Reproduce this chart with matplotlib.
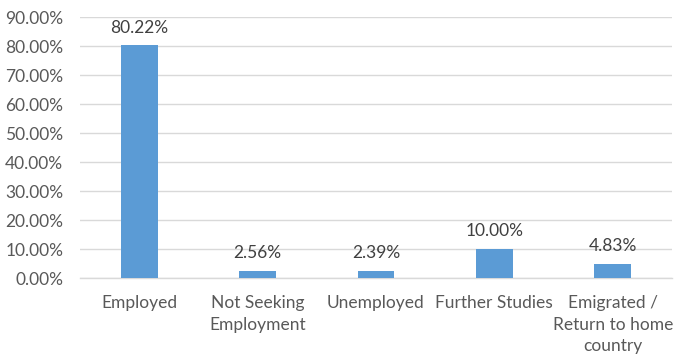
import matplotlib
matplotlib.use("Agg")
import matplotlib.pyplot as plt
from matplotlib.ticker import FuncFormatter, MultipleLocator

categories = ["Employed", "Not Seeking\nEmployment", "Unemployed", "Further Studies",
              "Emigrated /\nReturn to home\ncountry"]
values = [80.22, 2.56, 2.39, 10.00, 4.83]

plt.rcParams['font.family'] = ['Lato', 'DejaVu Sans']
txt = '#595959'
fs = 12.5

fig = plt.figure(figsize=(6.87, 3.63), dpi=100)
ax = fig.add_axes([0.1164, 0.234, 0.978 - 0.1164, 0.953 - 0.234])
x = range(len(categories))
ax.bar(x, values, width=0.31, color='#5b9bd5', zorder=3)
for xi, v in zip(x, values):
    ax.annotate(f"{v:.2f}%", (xi, v), xytext=(0, 7), textcoords='offset points',
                ha='center', va='bottom', fontsize=fs, color='#404040', zorder=4)

ax.set_ylim(0, 90)
ax.set_xlim(-0.5, len(categories) - 0.5)
ax.yaxis.set_major_locator(MultipleLocator(10))
ax.yaxis.set_major_formatter(FuncFormatter(lambda v, p: f"{v:.2f}%"))
ax.grid(axis='y', color='#d9d9d9', linewidth=1, zorder=0)
for s in ['top', 'right', 'left']:
    ax.spines[s].set_visible(False)
ax.spines['bottom'].set_color('#d9d9d9')
ax.spines['bottom'].set_linewidth(1)
ax.set_xticks(list(x))
ax.set_xticklabels(categories, fontsize=fs, color=txt, linespacing=1.45, va='top')
ax.tick_params(axis='x', length=0, pad=12)
ax.tick_params(axis='y', length=0, pad=12, labelsize=fs, labelcolor=txt)

fig.savefig("out.png", dpi=100)
